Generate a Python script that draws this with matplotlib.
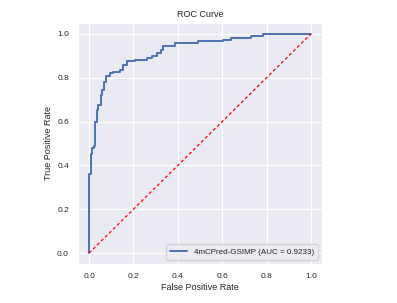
import matplotlib
matplotlib.use("Agg")
import matplotlib.pyplot as plt
import seaborn as sns

# ROC curve points (step curve)
fpr = [0.0, 0.0, 0.0075, 0.0075, 0.012, 0.012, 0.02, 0.02, 0.025, 0.025, 0.028, 0.028,
       0.035, 0.035, 0.042, 0.042, 0.053, 0.053, 0.059, 0.059, 0.068, 0.068, 0.075, 0.075,
       0.095, 0.095, 0.11, 0.11, 0.14, 0.14, 0.152, 0.152, 0.17, 0.17, 0.207, 0.207,
       0.26, 0.26, 0.282, 0.282, 0.305, 0.305, 0.324, 0.324, 0.335, 0.335, 0.387, 0.387,
       0.493, 0.493, 0.605, 0.605, 0.64, 0.64, 0.73, 0.73, 0.782, 0.782, 1.0]
tpr = [0.0, 0.359, 0.359, 0.45, 0.45, 0.48, 0.48, 0.487, 0.487, 0.525, 0.525, 0.60,
       0.60, 0.653, 0.653, 0.676, 0.676, 0.72, 0.72, 0.744, 0.744, 0.78, 0.78, 0.807,
       0.807, 0.82, 0.82, 0.827, 0.827, 0.837, 0.837, 0.857, 0.857, 0.876, 0.876, 0.882,
       0.882, 0.891, 0.891, 0.90, 0.90, 0.914, 0.914, 0.928, 0.928, 0.947, 0.947, 0.96,
       0.96, 0.967, 0.967, 0.974, 0.974, 0.982, 0.982, 0.991, 0.991, 1.0, 1.0]
model_name = "4mCPred-GSIMP"
auc = 0.9233

sns.set_style("darkgrid")
plt.rcParams['font.family'] = ['Liberation Sans', 'DejaVu Sans']

fig = plt.figure(figsize=(3.97, 3.03), dpi=100)
ax = fig.add_axes([78 / 397, 39 / 303, 244 / 397, 241 / 303])

ax.plot(fpr, tpr, color='#4c72b0', lw=1.4, label=f'{model_name} (AUC = {auc:.4f})')
ax.plot([0, 1], [0, 1], color='red', lw=0.9, linestyle='--', dashes=(2.5, 2))

ax.set_title('ROC Curve', fontsize=6.5, pad=4)
ax.set_xlabel('False Positive Rate', fontsize=6.5, labelpad=2)
ax.set_ylabel('True Positive Rate', fontsize=6.5, labelpad=3)
ax.tick_params(labelsize=6, pad=3)
ax.set_xticks([0, 0.2, 0.4, 0.6, 0.8, 1.0])
ax.set_yticks([0, 0.2, 0.4, 0.6, 0.8, 1.0])
ax.legend(loc='lower right', fontsize=5.8, handlelength=2.2, borderpad=0.5)

fig.savefig("out.png", dpi=100)
plt.close(fig)
